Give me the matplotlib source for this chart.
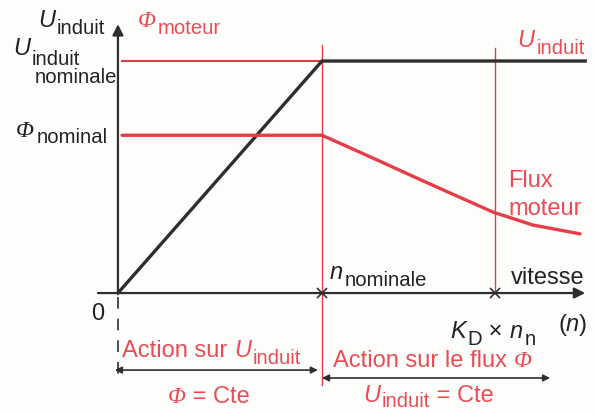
import matplotlib
matplotlib.use("Agg")
import matplotlib.pyplot as plt

plt.rcParams["font.family"] = ["Liberation Sans", "DejaVu Sans"]

RED = "#e63e48"
RED_TXT = "#ea4c55"
INK = "#222222"
DARK = "#2e2e2e"

# speed in units of n_nominale, U and Phi in units of U_nominale
n_nominal = 1.0
n_kd = 1.85            # K_D x n_n
n_end = 2.29
U_nominal = 1.0
phi_nominal = 0.68

U_n = [0.0, n_nominal, n_end]
U_vals = [0.0, U_nominal, U_nominal]

phi_n = [0.02, 1.0, 1.127, 1.294, 1.456, 1.618, 1.838, 2.034, 2.265]
phi_vals = [0.68, 0.68, 0.630, 0.564, 0.499, 0.435, 0.349, 0.293, 0.255]

FS = 17
SUB = 0.86 * FS

fig = plt.figure(figsize=(5.95, 4.13), dpi=100)
fig.patch.set_facecolor("#fdfdfb")
ax = fig.add_axes([0, 0, 1, 1])
ax.set_xlim(-0.578, 2.338)
ax.set_ylim(-0.517, 1.263)
ax.axis("off")


def label(x, y, pieces, color=INK, drop=0.27):
    """Write a label built from pieces: 'n' plain, 'i' italic,
    'p' italic serif (for Phi), 's' subscript. Pieces are chained so
    each one starts where the previous one ends."""
    styles = {
        "n": dict(fontsize=FS),
        "i": dict(fontsize=FS, style="italic"),
        "p": dict(fontsize=FS, style="italic", family="Liberation Serif"),
        "s": dict(fontsize=SUB),
    }
    first, kind = pieces[0]
    anchor = ax.text(x, y, first, ha="left", va="baseline", color=color,
                     **styles[kind])
    prev = anchor
    for txt, kind in pieces[1:]:
        dy = -drop * FS if kind == "s" else 0
        gap = 1.5 if kind == "s" else 0
        prev = ax.annotate(txt, xy=(1, 0), xycoords=(prev, anchor),
                           xytext=(gap, dy), textcoords="offset points",
                           ha="left", va="bottom", color=color,
                           **styles[kind])
    return anchor


# axes
ax.annotate("", xy=(n_end, 0), xytext=(-0.098, 0),
            arrowprops=dict(arrowstyle="-|>", color=DARK, lw=1.6,
                            mutation_scale=16, shrinkA=0, shrinkB=0))
ax.annotate("", xy=(0, 1.159), xytext=(0, 0),
            arrowprops=dict(arrowstyle="-|>", color=DARK, lw=1.6,
                            mutation_scale=16, shrinkA=0, shrinkB=0))
ax.plot([0, 0], [-0.017, -0.366], color=DARK, lw=1.2, ls=(0, (7, 6)))

# reference levels and speed markers
ax.plot([0.02, n_nominal], [U_nominal, U_nominal], color=RED, lw=1.5)
ax.plot([n_nominal, n_nominal], [1.069, -0.397], color=RED, lw=1.0)
ax.plot([n_kd, n_kd], [1.056, 0], color=RED, lw=1.0)
ax.plot([n_nominal, n_kd], [0, 0], ls="none", marker="x", ms=7,
        mew=1.2, color=DARK)

# curves
ax.plot(U_n, U_vals, color=DARK, lw=2.4, solid_joinstyle="round")
ax.plot(phi_n, phi_vals, color=RED, lw=2.4, solid_joinstyle="round",
        solid_capstyle="round")

# axis labels
label(-0.392, 1.147, [("U", "i"), ("induit", "s")])
label(0.098, 1.147, [("Φ", "p"), ("moteur", "s")], color=RED_TXT)
label(-0.515, 1.026, [("U", "i"), ("induit", "s")], drop=0.4)
ax.text(-0.407, 0.905, "nominale", fontsize=SUB, ha="left", va="baseline",
        color=INK)
label(-0.498, 0.672, [("Φ", "p"), ("nominal", "s")], drop=0.2)
label(1.956, 1.06, [("U", "i"), ("induit", "s")], color=RED_TXT)
ax.text(1.912, 0.457, "Flux", fontsize=FS, ha="left", va="baseline",
        color=RED_TXT)
ax.text(1.912, 0.336, "moteur", fontsize=FS, ha="left", va="baseline",
        color=RED_TXT)
label(1.039, 0.06, [("n", "i"), ("nominale", "s")])
ax.text(2.289, 0.039, "vitesse", fontsize=FS, ha="right", va="baseline",
        color=INK)
ax.text(-0.098, -0.116, "0", fontsize=FS, ha="center", va="baseline",
        color=INK)
label(1.627, -0.194, [("K", "i"), ("D", "s"), (" × ", "n"), ("n", "i"),
                      ("n", "s")])
label(2.157, -0.165, [("(", "n"), ("n", "i"), (")", "n")])

# operating ranges
ax.annotate("", xy=(-0.015, -0.332), xytext=(0.98, -0.332),
            arrowprops=dict(arrowstyle="<|-|>", color=DARK, lw=1.2,
                            mutation_scale=10, shrinkA=0, shrinkB=0))
ax.annotate("", xy=(1.0, -0.366), xytext=(2.118, -0.366),
            arrowprops=dict(arrowstyle="<|-|>", color=DARK, lw=1.2,
                            mutation_scale=10, shrinkA=0, shrinkB=0))
label(0.020, -0.276, [("Action sur ", "n"), ("U", "i"), ("induit", "s")],
      color=RED_TXT)
label(1.054, -0.319, [("Action sur le flux ", "n"), ("Φ", "p")],
      color=RED_TXT)
label(0.245, -0.474, [("Φ", "p"), (" = Cte", "n")], color=RED_TXT)
label(1.201, -0.470, [("U", "i"), ("induit", "s"), (" = Cte", "n")],
      color=RED_TXT, drop=0.15)

fig.savefig("out.png", dpi=100, facecolor=fig.get_facecolor())
